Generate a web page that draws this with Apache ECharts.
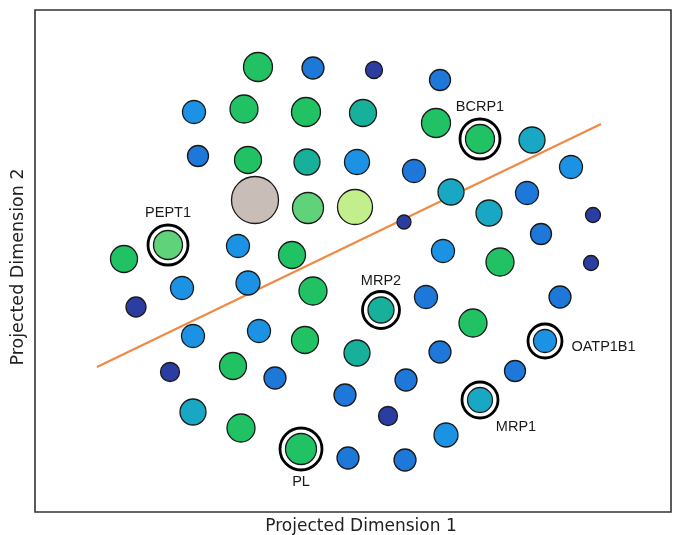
<!DOCTYPE html>
<html>
<head>
<meta charset="utf-8">
<script src="https://cdn.jsdelivr.net/npm/echarts@6/dist/echarts.min.js"></script>
<style>
  html, body { margin: 0; padding: 0; background: #fff; }
  #chart { width: 674px; height: 535px; }
</style>
</head>
<body>
<div id="chart"></div>
<script>
// Projected coordinates of each transporter node (dimension 1, dimension 2)
const dim1 = [223, 278, 339, 405, 159, 209, 271, 328, 401, 445, 497, 163, 213, 272, 322, 379, 536,
  220, 273, 320, 416, 492, 369, 454, 558, 133, 203, 257, 89, 506, 408, 465, 556, 147, 213, 278, 101,
  391, 525, 346, 158, 224, 270, 438, 510, 135, 198, 240, 322, 405, 480, 371, 310, 445, 353, 158, 206,
  411, 266, 313, 370];
const dim2 = [445, 444, 442, 432, 400, 403, 400, 399, 389, 373, 372, 356, 352, 350, 350, 341, 345,
  312, 304, 305, 320, 319, 290, 299, 297, 267, 266, 257, 253, 278, 261, 250, 249, 224, 229, 221, 205,
  215, 215, 202, 176, 181, 172, 189, 171, 140, 146, 134, 159, 160, 141, 132, 117, 112, 96, 100, 84,
  77, 63, 54, 52];
// Node weight (drives marker size)
const nodeWeight = [14, 10.5, 8, 10, 11, 13.5, 14, 13, 14, 14, 12.5, 10, 13, 12.5, 12, 11, 11,
  23, 15, 17, 12.5, 11, 6.5, 12.5, 7, 14, 11, 13, 13, 10, 11, 13.5, 7, 11, 11.5, 13.5, 9.5,
  11, 10.5, 12.5, 11, 11, 13, 13.5, 11, 9, 13, 10.5, 12.5, 10.5, 10, 10.5, 10.5, 12, 9, 12.5, 13.5,
  11.5, 15, 10.5, 10.5];
// Cluster class of each node
const nodeClass = ['G', 'B', 'N', 'B', 'S', 'G', 'G', 'T', 'G', 'G', 'C', 'B', 'G', 'T', 'S', 'B', 'S',
  'P', 'L', 'Y', 'C', 'B', 'N', 'C', 'N', 'L', 'S', 'G', 'G', 'B', 'S', 'G', 'N', 'S', 'S', 'G', 'N',
  'B', 'B', 'T', 'S', 'S', 'G', 'G', 'S', 'N', 'G', 'B', 'T', 'B', 'B', 'B', 'B', 'C', 'N', 'C', 'G',
  'S', 'G', 'B', 'B'];
// Highlighted transporters: name and node index
const highlightNames = ['BCRP1', 'PEPT1', 'MRP2', 'OATP1B1', 'MRP1', 'PL'];
const highlightIndex = [9, 25, 39, 44, 53, 58];
// Separating boundary endpoints
const boundaryX = [62, 566];
const boundaryY = [145, 388];

const classColor = {
  N: '#2c3da2', B: '#1d78da', S: '#1c92e4', C: '#19a8c4', T: '#17b09a',
  G: '#21c264', L: '#5fd27a', Y: '#c3ee8c', P: '#c9bdb8'
};
const labelPlacement = {
  BCRP1: { position: 'top', distance: 3 },
  PEPT1: { position: 'top', distance: 3 },
  MRP2: { position: 'top', distance: 2 },
  OATP1B1: { position: 'right', distance: 8, offset: [0, 6] },
  MRP1: { position: 'bottom', distance: 0, offset: [36, 0] },
  PL: { position: 'bottom', distance: 3 }
};

const nodes = dim1.map((x, i) => ({
  value: [x, dim2[i], nodeWeight[i]],
  itemStyle: { color: classColor[nodeClass[i]] }
}));
const rings = highlightIndex.map((idx, k) => {
  const p = labelPlacement[highlightNames[k]];
  return {
    name: highlightNames[k],
    value: [dim1[idx], dim2[idx], nodeWeight[idx]],
    label: Object.assign({ show: true, formatter: '{b}' }, p)
  };
});

const chart = echarts.init(document.getElementById('chart'), null, { renderer: 'canvas' });
chart.setOption({
  animation: false,
  backgroundColor: '#ffffff',
  grid: {
    left: 35, top: 10, width: 636, height: 502,
    outerBoundsMode: 'none', containLabel: false,
    show: true, borderColor: '#333333', borderWidth: 1.6, backgroundColor: 'transparent'
  },
  xAxis: {
    type: 'value', min: 0, max: 636,
    name: 'Projected Dimension 1', nameLocation: 'middle', nameGap: 6,
    nameTextStyle: { fontFamily: 'DejaVu Sans', fontSize: 17, color: '#222', padding: [0, 0, 0, 16] },
    axisLine: { show: false }, axisTick: { show: false }, axisLabel: { show: false },
    splitLine: { show: false }
  },
  yAxis: {
    type: 'value', min: 0, max: 502,
    name: 'Projected Dimension 2', nameLocation: 'middle', nameGap: 8,
    nameTextStyle: { fontFamily: 'DejaVu Sans', fontSize: 17.5, color: '#222', padding: [0, 12, 0, 0] },
    axisLine: { show: false }, axisTick: { show: false }, axisLabel: { show: false },
    splitLine: { show: false }
  },
  series: [
    {
      type: 'line',
      data: boundaryX.map((x, i) => [x, boundaryY[i]]),
      symbol: 'none',
      lineStyle: { color: '#ef8a45', width: 2.2 },
      z: 1
    },
    {
      type: 'scatter',
      data: nodes,
      symbol: 'circle',
      symbolSize: v => v[2] * 2 + 1,
      itemStyle: { borderColor: '#1a1a1a', borderWidth: 1.3, opacity: 1 },
      z: 3
    },
    {
      type: 'scatter',
      data: rings,
      symbol: 'circle',
      symbolSize: v => v[2] * 2 + 12,
      itemStyle: { color: 'rgba(0,0,0,0)', borderColor: '#000', borderWidth: 2.8, opacity: 1 },
      label: { color: '#1a1a1a', fontFamily: 'Liberation Sans', fontSize: 14.5 },
      z: 4
    }
  ]
});
</script>
</body>
</html>
